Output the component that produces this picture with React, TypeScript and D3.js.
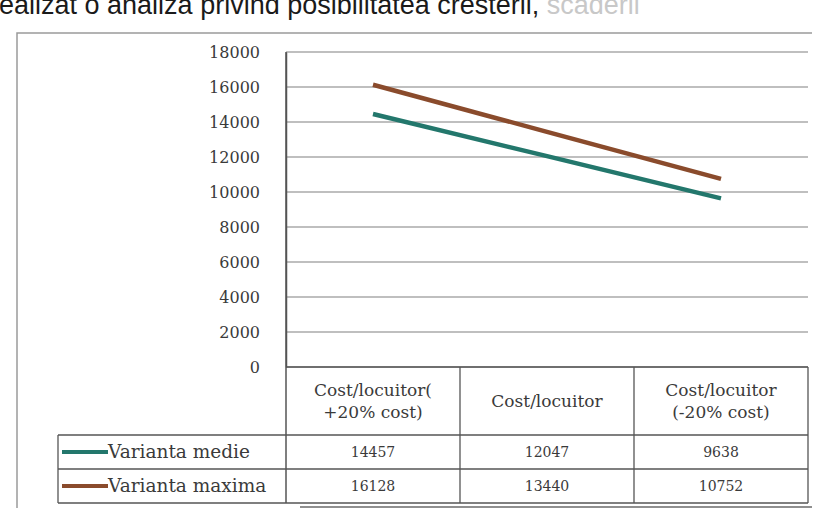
import React, { useEffect, useRef } from 'react';
import * as d3 from 'd3';

const categories: string[][] = [
    ['Cost/locuitor(', '+20% cost)'],
    ['Cost/locuitor'],
    ['Cost/locuitor', '(-20% cost)'],
];
const seriesNames = ['Varianta medie', 'Varianta maxima'];
const medie = [14457, 12047, 9638];
const maxima = [16128, 13440, 10752];
const seriesColors = ['#23776c', '#8a4b2c'];

const App: React.FC = () => {
    const svgRef = useRef<SVGSVGElement>(null);

    useEffect(() => {
        const width = 823;
        const height = 511;
        const svg = d3.select(svgRef.current);
        svg.selectAll('*').remove();
        svg.attr('width', width).attr('height', height).style('background', '#fff');

        const font = '"DejaVu Serif", "Liberation Serif", serif';
        const textColor = '#3a3a3a';

        // cut-off sentence from the page above the chart
        const head = svg.append('text')
            .attr('x', -1)
            .attr('y', 14)
            .style('font-family', '"Liberation Sans", Arial, sans-serif')
            .style('font-size', '27px')
            .style('fill', '#1a1a1a');
        head.append('tspan').text('ealizat o analiza privind posibilitatea cresterii, ');
        head.append('tspan').style('fill', '#c8c8c8').text('scaderii');

        // chart frame
        svg.append('path')
            .attr('d', 'M17,508 L17,33 L812,33')
            .attr('fill', 'none')
            .attr('stroke', '#9a9a9a')
            .attr('stroke-width', 1.5);
        svg.append('line')
            .attr('x1', 300).attr('x2', 812).attr('y1', 507).attr('y2', 507)
            .attr('stroke', '#6a6a6a').attr('stroke-width', 1.5);

        const plot = { left: 286, right: 808, top: 52, bottom: 367 };

        const x = d3.scaleBand<number>()
            .domain(d3.range(categories.length))
            .range([plot.left, plot.right]);

        const y = d3.scaleLinear()
            .domain([0, 18000])
            .range([plot.bottom, plot.top]);

        // gridlines
        svg.append('g')
            .selectAll('line')
            .data(y.ticks(9))
            .join('line')
            .attr('x1', plot.left)
            .attr('x2', plot.right)
            .attr('y1', d => y(d))
            .attr('y2', d => y(d))
            .attr('stroke', '#808080')
            .attr('stroke-width', 1.2);

        // y axis
        const yAxis = svg.append('g')
            .attr('transform', `translate(${plot.left},0)`)
            .call(d3.axisLeft(y).ticks(9).tickSize(0).tickPadding(26).tickFormat(d3.format('d')));
        yAxis.select('.domain').attr('stroke', '#555').attr('stroke-width', 1.5);
        yAxis.selectAll('text')
            .style('font-family', font)
            .style('font-size', '16px')
            .style('fill', textColor);
        svg.append('line')
            .attr('x1', plot.left).attr('x2', plot.left)
            .attr('y1', plot.top).attr('y2', 503)
            .attr('stroke', '#555').attr('stroke-width', 1.5);

        // data table
        const rowY = [plot.bottom, 435, 469, 503];
        const legendLeft = 58;
        const tbl = svg.append('g')
            .attr('stroke', '#555')
            .attr('stroke-width', 1.3);
        tbl.append('line').attr('x1', plot.left).attr('x2', plot.right).attr('y1', rowY[0]).attr('y2', rowY[0]);
        rowY.slice(1).forEach(r => {
            tbl.append('line').attr('x1', legendLeft).attr('x2', plot.right).attr('y1', r).attr('y2', r);
        });
        tbl.append('line').attr('x1', legendLeft).attr('x2', legendLeft).attr('y1', rowY[1]).attr('y2', rowY[3]);
        categories.forEach((_, i) => {
            const xe = (x(i) as number) + x.bandwidth();
            tbl.append('line').attr('x1', xe).attr('x2', xe).attr('y1', rowY[0]).attr('y2', rowY[3]);
        });

        // header labels
        categories.forEach((lines, i) => {
            const cx = (x(i) as number) + x.bandwidth() / 2;
            const cy = (rowY[0] + rowY[1]) / 2;
            const t = svg.append('text')
                .attr('text-anchor', 'middle')
                .style('font-family', font)
                .style('font-size', '17px')
                .style('fill', textColor);
            lines.forEach((ln, j) => {
                t.append('tspan')
                    .attr('x', cx)
                    .attr('y', cy + 6 + (j - (lines.length - 1) / 2) * 22)
                    .text(ln);
            });
        });

        // value rows + legend
        const allSeries = [medie, maxima];
        allSeries.forEach((vals, s) => {
            const cy = (rowY[s + 1] + rowY[s + 2]) / 2;
            svg.append('line')
                .attr('x1', legendLeft + 4).attr('x2', legendLeft + 50)
                .attr('y1', cy).attr('y2', cy)
                .attr('stroke', seriesColors[s]).attr('stroke-width', 4);
            svg.append('text')
                .attr('x', legendLeft + 50)
                .attr('y', cy + 6)
                .style('font-family', font)
                .style('font-size', '18.5px')
                .style('fill', textColor)
                .text(seriesNames[s]);
            vals.forEach((v, i) => {
                svg.append('text')
                    .attr('x', (x(i) as number) + x.bandwidth() / 2)
                    .attr('y', cy + 5)
                    .attr('text-anchor', 'middle')
                    .style('font-family', font)
                    .style('font-size', '14px')
                    .style('fill', textColor)
                    .text(v);
            });
        });

        // lines
        const line = d3.line<number>()
            .x((_, i) => (x(i) as number) + x.bandwidth() / 2)
            .y(d => y(d));
        allSeries.forEach((vals, s) => {
            svg.append('path')
                .datum(vals)
                .attr('fill', 'none')
                .attr('stroke', seriesColors[s])
                .attr('stroke-width', 4.5)
                .attr('d', line);
        });
    }, []);

    return <svg ref={svgRef} style={{ position: 'absolute', left: 0, top: 0 }}></svg>;
};

export default App;
